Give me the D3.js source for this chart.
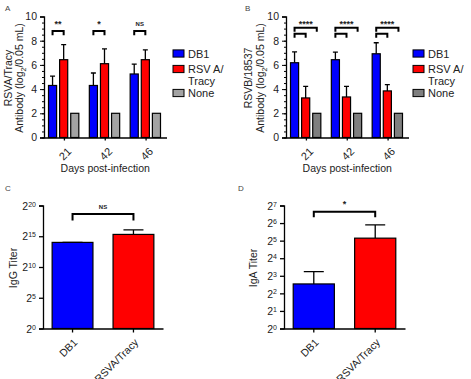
<!DOCTYPE html>
<html>
<head>
<meta charset="utf-8">
<script src="https://cdn.jsdelivr.net/npm/d3@7"></script>
<style>
  body { margin: 0; background: #fff; }
  text { font-family: "Liberation Sans", Arial, sans-serif; fill: #222; }
</style>
</head>
<body>
<svg id="fig" width="471" height="379"></svg>
<script>
// grouped panels (A, B)
var days = ["21", "42", "46"];
var seriesNames = ["DB1", "RSV A/ Tracy", "None"];
var yTicksAB = [0, 2, 4, 6, 8, 10];

var aDB1 = [4.3, 4.3, 5.25];
var aDB1Err = [5.08, 5.33, 6.07];
var aRSV = [6.43, 6.1, 6.43];
var aRSVErr = [7.68, 7.33, 7.25];
var aNone = [2, 2, 2];
var aSig = ["**", "*", "NS"];

var bDB1 = [6.18, 6.43, 6.92];
var bDB1Err = [7.07, 7.05, 7.83];
var bRSV = [3.27, 3.35, 3.85];
var bRSVErr = [4.23, 4.23, 4.37];
var bNone = [2, 2, 2];
var bSig = ["****", "****", "****"];

// paired panels (C, D)
var pairGroups = ["DB1", "RSVA/Tracy"];
var cTiter = [16400, 40300];
var cTiterErr = [16400, 66900];
var cTicks = [1, 32, 1024, 32768, 1048576];
var cSig = "NS";

var dTiter = [5.8, 35.3];
var dTiterErr = [9.4, 59.7];
var dTicks = [1, 2, 4, 8, 16, 32, 64, 128];
var dSig = "*";

var blue = "#0000ff", red = "#ff0000";

var svg = d3.select("#fig");

var letter = function(t, x, y) {
    svg.append("text").attr("x", x).attr("y", y)
        .style("font-size", "8px").style("fill", "#444").text(t);
}
letter("A", 5, 11);
letter("B", 245, 11);
letter("C", 5, 191);
letter("D", 238, 191);

var styleAxis = function(ax, fs) {
    ax.selectAll("path, line").style("stroke", "#000").style("stroke-width", 1.3);
    ax.selectAll("text").style("font-size", fs).style("fill", "#222");
}

var drawGrouped = function(cfg) {
    var g = svg.append("g");
    var series = [
        {name: "DB1", vals: cfg.db1, err: cfg.db1Err, color: blue},
        {name: "RSV A/ Tracy", vals: cfg.rsv, err: cfg.rsvErr, color: red},
        {name: "None", vals: cfg.none, err: null, color: cfg.gray}
    ];
    var x0 = d3.scaleBand().domain(days).range([cfg.left, cfg.right]);
    var x1 = d3.scaleBand().domain(seriesNames)
        .range([4.5, x0.bandwidth() - 6]).paddingInner(0.27);
    var y = d3.scaleLinear().domain([0, 10]).range([137.5, 16.5]);

    series.forEach(function(s) {
        var gs = g.append("g");
        if (s.err) {
            gs.selectAll(".eb").data(days).enter().append("path")
                .attr("d", function(d, i) {
                    var cx = x0(d) + x1(s.name) + x1.bandwidth() / 2;
                    return "M" + cx + "," + y(s.vals[i]) + "V" + y(s.err[i]) +
                        "M" + (cx - 2.5) + "," + y(s.err[i]) + "H" + (cx + 2.5);
                })
                .style("stroke", "#000").style("stroke-width", 1.3).style("fill", "none");
        }
        gs.selectAll("rect").data(days).enter().append("rect")
            .attr("x", function(d) { return x0(d) + x1(s.name); })
            .attr("width", x1.bandwidth())
            .attr("y", function(d, i) { return y(s.vals[i]); })
            .attr("height", function(d, i) { return y(0) - y(s.vals[i]); })
            .style("fill", s.color).style("stroke", "#000").style("stroke-width", 1.2);
    });

    // significance brackets
    var cxOf = function(d, name) { return x0(d) + x1(name) + x1.bandwidth() / 2; };
    var bracket = function(xa, xb, top, leg) {
        g.append("path")
            .attr("d", "M" + xa + "," + y(leg) + "V" + y(top) + "H" + xb + "V" + y(leg))
            .style("stroke", "#000").style("stroke-width", 2).style("fill", "none");
    }
    days.forEach(function(d, i) {
        var lx;
        if (cfg.double) {
            bracket(cxOf(d, "DB1"), cxOf(d, "None"), 9.06, 8.73);
            bracket(cxOf(d, "DB1"), cxOf(d, "RSV A/ Tracy"), 8.57, 8.24);
            lx = (cxOf(d, "DB1") + cxOf(d, "None")) / 2;
        } else {
            bracket(cxOf(d, "DB1"), cxOf(d, "RSV A/ Tracy"), 8.8, 8.45);
            lx = (cxOf(d, "DB1") + cxOf(d, "RSV A/ Tracy")) / 2;
        }
        var sig = cfg.sig[i];
        g.append("text").attr("x", lx).attr("y", y(sig == "NS" ? 9.25 : 9.15))
            .attr("text-anchor", "middle")
            .style("font-size", sig == "NS" ? "6px" : "9px")
            .style("font-weight", "bold")
            .text(sig);
    });

    var yAx = g.append("g").attr("transform", "translate(" + cfg.left + ",0)")
        .call(d3.axisLeft(y).tickValues(yTicksAB).tickSize(4).tickPadding(3));
    g.append("g").attr("transform", "translate(" + cfg.left + ",0)")
        .call(d3.axisLeft(y).tickValues(d3.range(0, 10, 0.5)).tickSize(2).tickFormat(""))
        .select(".domain").remove();
    styleAxis(yAx, "10.5px");
    g.selectAll(".tick line").style("stroke", "#000").style("stroke-width", 1);

    var xAx = g.append("g").attr("transform", "translate(0," + y(0) + ")")
        .call(d3.axisBottom(x0).tickSize(3).tickSizeOuter(0));
    styleAxis(xAx, "11px");
    xAx.selectAll("text")
        .attr("y", null).attr("dy", "0.35em")
        .attr("transform", "translate(5,12) rotate(-45)")
        .style("text-anchor", "end");

    g.append("text")
        .attr("x", (cfg.left + cfg.right) / 2).attr("y", 172)
        .attr("text-anchor", "middle").style("font-size", "10.5px")
        .text("Days post-infection");

    var yl = g.append("text").attr("transform", "translate(" + cfg.labelX + ",78) rotate(-90)")
        .attr("text-anchor", "middle").style("font-size", "10.5px");
    yl.append("tspan").attr("x", 0).attr("y", 0).text(cfg.ylabel);
    var l2 = yl.append("tspan").attr("x", 0).attr("y", 11.5);
    l2.append("tspan").text("Antibody (log");
    l2.append("tspan").attr("dy", 3).style("font-size", "7px").text("2");
    l2.append("tspan").attr("dy", -3).text("/0.05 mL)");

    // legend
    var lg = g.append("g").attr("transform", "translate(" + cfg.legendX + ",0)");
    var rows = [53.5, 69, 93];
    series.forEach(function(s, i) {
        lg.append("rect").attr("x", 0).attr("y", rows[i] - 3.6)
            .attr("width", 11).attr("height", 7.2)
            .style("fill", s.color).style("stroke", "#000").style("stroke-width", 1);
    });
    lg.append("text").attr("x", 15).attr("y", rows[0] + 4).style("font-size", "11px").text("DB1");
    lg.append("text").attr("x", 15).attr("y", rows[1] + 4).style("font-size", "11px").text("RSV A/");
    lg.append("text").attr("x", 15).attr("y", rows[1] + 16).style("font-size", "11px").text("Tracy");
    lg.append("text").attr("x", 15).attr("y", rows[2] + 4).style("font-size", "11px").text("None");
}

drawGrouped({left: 44, right: 166.5, labelX: 11.5, legendX: 173, gray: "#a3a3a3",
    db1: aDB1, db1Err: aDB1Err, rsv: aRSV, rsvErr: aRSVErr, none: aNone,
    sig: aSig, double: false, ylabel: "RSVA/Tracy"});
drawGrouped({left: 286, right: 408.5, labelX: 252, legendX: 413, gray: "#7f7f7f",
    db1: bDB1, db1Err: bDB1Err, rsv: bRSV, rsvErr: bRSVErr, none: bNone,
    sig: bSig, double: true, ylabel: "RSVB/18537"});

var drawPair = function(cfg) {
    var g = svg.append("g");
    var x = d3.scaleBand().domain(pairGroups).range([cfg.left, cfg.right])
        .paddingInner(0.33).paddingOuter(0.15);
    var y = d3.scaleLog().base(2).domain([1, cfg.ticks[cfg.ticks.length - 1]]).range([328.5, 205.5]);
    var cols = [blue, red];

    g.selectAll(".eb").data(pairGroups).enter().append("path")
        .attr("d", function(d, i) {
            var cx = x(d) + x.bandwidth() / 2;
            return "M" + cx + "," + y(cfg.vals[i]) + "V" + y(cfg.err[i]) +
                "M" + (cx - 10) + "," + y(cfg.err[i]) + "H" + (cx + 10);
        })
        .style("stroke", "#000").style("stroke-width", 1.3).style("fill", "none");

    g.selectAll("rect").data(pairGroups).enter().append("rect")
        .attr("x", function(d) { return x(d); })
        .attr("width", x.bandwidth())
        .attr("y", function(d, i) { return y(cfg.vals[i]); })
        .attr("height", function(d, i) { return y(1) - y(cfg.vals[i]); })
        .style("fill", function(d, i) { return cols[i]; })
        .style("stroke", "#000").style("stroke-width", 1.2);

    var xa = x(pairGroups[0]) + x.bandwidth() / 2, xb = x(pairGroups[1]) + x.bandwidth() / 2;
    g.append("path")
        .attr("d", "M" + xa + "," + y(cfg.bLeg) + "V" + y(cfg.bTop) + "H" + xb + "V" + y(cfg.bLeg))
        .style("stroke", "#000").style("stroke-width", 2).style("fill", "none");
    g.append("text").attr("x", (xa + xb) / 2).attr("y", y(cfg.bTop) - 5)
        .attr("text-anchor", "middle")
        .style("font-size", cfg.sig == "NS" ? "6px" : "9px").style("font-weight", "bold")
        .text(cfg.sig);

    var yAx = g.append("g").attr("transform", "translate(" + cfg.left + ",0)")
        .call(d3.axisLeft(y).tickValues(cfg.ticks).tickSize(4).tickPadding(3)
            .tickFormat(function(d) { return ""; }));
    styleAxis(yAx, "10.5px");
    yAx.selectAll(".tick text").each(function(d) {
        var t = d3.select(this).attr("dy", "0.35em");
        t.append("tspan").text("2");
        t.append("tspan").attr("dy", "-0.45em").style("font-size", "7px")
            .text(Math.round(Math.log2(d)));
    });

    var xAx = g.append("g").attr("transform", "translate(0," + y(1) + ")")
        .call(d3.axisBottom(x).tickSize(4).tickSizeOuter(0));
    styleAxis(xAx, "10.5px");
    xAx.selectAll("text")
        .attr("y", null).attr("dy", "0.35em")
        .attr("transform", "translate(3,12) rotate(-45)")
        .style("text-anchor", "end");

    g.append("text").attr("transform", "translate(" + cfg.labelX + ",268) rotate(-90)")
        .attr("text-anchor", "middle").style("font-size", "10.5px").text(cfg.ylabel);
}

drawPair({left: 43, right: 163, labelX: 17, ticks: cTicks, vals: cTiter, err: cTiterErr,
    bTop: 2 ** 18.6, bLeg: 2 ** 17.55, sig: cSig, ylabel: "IgG  Titer"});
drawPair({left: 284, right: 405, labelX: 257, ticks: dTicks, vals: dTiter, err: dTiterErr,
    bTop: 2 ** 6.64, bLeg: 2 ** 6.33, sig: dSig, ylabel: "IgA Titer"});
</script>
</body>
</html>
